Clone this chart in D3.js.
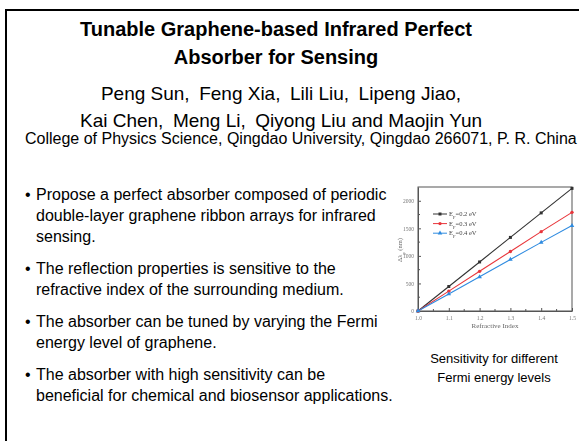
<!DOCTYPE html>
<html>
<head>
<meta charset="utf-8">
<script src="https://cdn.jsdelivr.net/npm/d3@7"></script>
<style>
  html, body { margin: 0; padding: 0; background: #fff; }
  svg { display: block; }
  .sans { font-family: "Liberation Sans", Arial, sans-serif; }
  .serif { font-family: "Liberation Serif", "Times New Roman", serif; }
</style>
</head>
<body>
<svg id="slide" width="579" height="441"></svg>
<script>
// Sensitivity data: resonance shift (nm) versus refractive index of the medium
const refractiveIndex = [1.0, 1.1, 1.2, 1.3, 1.4, 1.5];
const shiftEF02 = [0, 445, 890, 1335, 1780, 2225];
const shiftEF03 = [0, 360, 720, 1080, 1440, 1790];
const shiftEF04 = [0, 308, 620, 935, 1245, 1550];
const seriesLabels = ["0.2 eV", "0.3 eV", "0.4 eV"];
const xTicks = [1.0, 1.1, 1.2, 1.3, 1.4, 1.5];
const yTicks = [0, 500, 1000, 1500, 2000];

const titleLines = ["Tunable Graphene-based Infrared Perfect", "Absorber for Sensing"];
const authorLines = ["Peng Sun,\u2002Feng Xia,\u2002Lili Liu,\u2002Lipeng Jiao,", "Kai Chen,\u2002Meng Li,\u2002Qiyong Liu and Maojin Yun"];
const affiliation = "College of Physics Science, Qingdao University, Qingdao 266071, P. R. China";
const bullets = [
  ["Propose a perfect absorber composed of periodic", "double-layer graphene ribbon arrays for infrared", "sensing."],
  ["The reflection properties is sensitive to the", "refractive index of the surrounding medium."],
  ["The absorber can be tuned by varying the Fermi", "energy level of graphene."],
  ["The absorber with high sensitivity can be", "beneficial for chemical and biosensor applications."]
];
const captionLines = ["Sensitivity for different", "Fermi energy levels"];

const svg = d3.select("#slide");

// slide frame (top and left edges visible)
svg.append("path")
  .attr("d", "M6,441 V10 H579")
  .attr("fill", "none").attr("stroke", "#000").attr("stroke-width", 2);

// header
const header = svg.append("g").attr("class", "sans").attr("text-anchor", "middle");
header.selectAll("text.title").data(titleLines).join("text")
  .attr("class", "title")
  .attr("x", 276).attr("y", (d, i) => 36 + i * 28)
  .attr("font-size", 20).attr("font-weight", "bold")
  .text(d => d);
header.selectAll("text.author").data(authorLines).join("text")
  .attr("class", "author")
  .attr("x", 281).attr("y", (d, i) => 100 + i * 27)
  .attr("font-size", 19)
  .text(d => d);
svg.append("text").attr("class", "sans")
  .attr("x", 25).attr("y", 144).attr("font-size", 16)
  .text(affiliation);

// bullet list
const bulletG = svg.append("g").attr("class", "sans").attr("font-size", 16);
let baseY = 200;
bullets.forEach(lines => {
  bulletG.append("text").attr("x", 25).attr("y", baseY).text("\u2022");
  lines.forEach((line, j) => {
    bulletG.append("text").attr("x", 36).attr("y", baseY + j * 21).text(line);
  });
  baseY += (lines.length - 1) * 21 + 32;
});

// caption under the chart
svg.append("g").attr("class", "sans").attr("text-anchor", "middle")
  .selectAll("text").data(captionLines).join("text")
  .attr("x", 494).attr("y", (d, i) => 363 + i * 19)
  .attr("font-size", 13)
  .text(d => d);

// ---- sensitivity chart ----
const defs = svg.append("defs");
defs.append("filter").attr("id", "soft")
  .append("feGaussianBlur").attr("stdDeviation", 0.35);

const plot = { left: 418, right: 572, top: 187, bottom: 311 };
const x = d3.scaleLinear().domain([1.0, 1.5]).range([plot.left, plot.right]);
const y = d3.scaleLinear().domain([0, 2250]).range([plot.bottom, plot.top]);

const chart = svg.append("g").attr("filter", "url(#soft)");
const axisColor = "#555";

// frame
chart.append("rect")
  .attr("x", plot.left).attr("y", plot.top)
  .attr("width", plot.right - plot.left).attr("height", plot.bottom - plot.top)
  .attr("fill", "none").attr("stroke", axisColor).attr("stroke-width", 1);

// axes with inward ticks
const xAxis = d3.axisBottom(x).tickValues(xTicks).tickSizeInner(-3).tickSizeOuter(0)
  .tickPadding(5).tickFormat(d3.format(".1f"));
const gx = chart.append("g").attr("transform", `translate(0,${plot.bottom})`).call(xAxis);
const xMinor = d3.range(1.05, 1.5, 0.1);
gx.selectAll("line.minor").data(xMinor).join("line").attr("class", "minor")
  .attr("x1", d => x(d)).attr("x2", d => x(d)).attr("y1", 0).attr("y2", -2)
  .attr("stroke", axisColor);

const yAxis = d3.axisLeft(y).tickValues(yTicks).tickSizeInner(-3).tickSizeOuter(0)
  .tickPadding(4).tickFormat(d3.format("d"));
const gy = chart.append("g").attr("transform", `translate(${plot.left},0)`).call(yAxis);
const yMinor = d3.range(250, 2250, 500);
gy.selectAll("line.minor").data(yMinor).join("line").attr("class", "minor")
  .attr("x1", 0).attr("x2", 2).attr("y1", d => y(d)).attr("y2", d => y(d))
  .attr("stroke", axisColor);

[gx, gy].forEach(g => {
  g.select(".domain").attr("stroke", axisColor);
  g.selectAll(".tick line").attr("stroke", axisColor);
  g.selectAll(".tick text").attr("class", "serif").attr("font-size", 5.5).attr("fill", "#777");
});

// axis titles
chart.append("text").attr("class", "serif")
  .attr("x", (plot.left + plot.right) / 2).attr("y", 328)
  .attr("text-anchor", "middle").attr("font-size", 7).attr("fill", "#666")
  .text("Refractive Index");
const yTitle = chart.append("text").attr("class", "serif")
  .attr("transform", "translate(402,250) rotate(-90)")
  .attr("text-anchor", "middle").attr("font-size", 6.5).attr("fill", "#666");
yTitle.append("tspan").text("\u0394\u03bb");
yTitle.append("tspan").attr("baseline-shift", "sub").attr("font-size", 4.5).text("p");
yTitle.append("tspan").text(" (nm)");

// series
const series = [
  { values: shiftEF02, color: "#333333", shape: d3.symbolSquare },
  { values: shiftEF03, color: "#e8363b", shape: d3.symbolCircle },
  { values: shiftEF04, color: "#2f8be0", shape: d3.symbolTriangle }
];
const line = d3.line().x(d => x(d[0])).y(d => y(d[1]));
series.forEach(s => {
  const pts = refractiveIndex.map((n, i) => [n, s.values[i]]);
  chart.append("path").datum(pts).attr("d", line)
    .attr("fill", "none").attr("stroke", s.color).attr("stroke-width", 1.1);
  chart.selectAll(null).data(pts).join("path")
    .attr("transform", d => `translate(${x(d[0])},${y(d[1])})`)
    .attr("d", d3.symbol().type(s.shape).size(9))
    .attr("fill", s.color);
});

// legend
const legend = chart.append("g").attr("class", "serif").attr("font-size", 6.5);
series.forEach((s, i) => {
  const ly = 214 + i * 9.6;
  legend.append("line").attr("x1", 433).attr("x2", 447).attr("y1", ly).attr("y2", ly)
    .attr("stroke", s.color).attr("stroke-width", 1);
  legend.append("path").attr("transform", `translate(440,${ly})`)
    .attr("d", d3.symbol().type(s.shape).size(9)).attr("fill", s.color);
  const t = legend.append("text").attr("x", 449).attr("y", ly + 2.2).attr("fill", "#444");
  t.append("tspan").text("E");
  t.append("tspan").attr("baseline-shift", "sub").attr("font-size", 4.5).text("F");
  t.append("tspan").text("=" + seriesLabels[i]);
});
</script>
</body>
</html>
